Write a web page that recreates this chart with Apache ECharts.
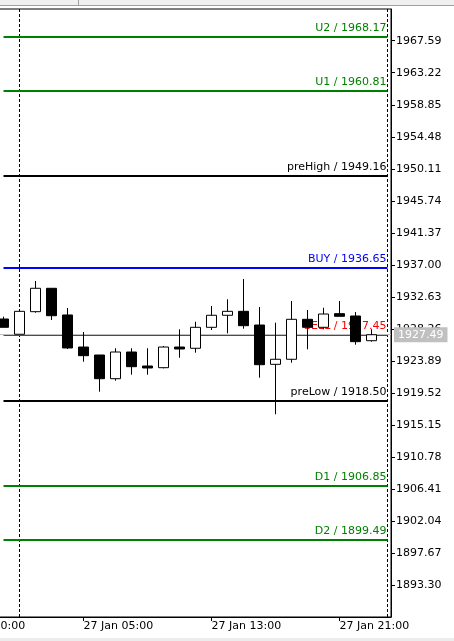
<!DOCTYPE html>
<html><head><meta charset="utf-8">
<script src="https://cdn.jsdelivr.net/npm/echarts@6/dist/echarts.min.js"></script>
<style>html,body{margin:0;padding:0;background:#fff}#c{width:454px;height:641px}</style>
</head><body><div id="c"></div>
<script>
// ---- data ----
const barTimes = ['26 Jan 20:00','26 Jan 21:00','26 Jan 22:00','26 Jan 23:00',
  '27 Jan 01:00','27 Jan 02:00','27 Jan 03:00','27 Jan 04:00','27 Jan 05:00','27 Jan 06:00',
  '27 Jan 07:00','27 Jan 08:00','27 Jan 09:00','27 Jan 10:00','27 Jan 11:00','27 Jan 12:00',
  '27 Jan 13:00','27 Jan 14:00','27 Jan 15:00','27 Jan 16:00','27 Jan 17:00','27 Jan 18:00',
  '27 Jan 19:00','27 Jan 20:00','27 Jan 21:00','27 Jan 22:00','27 Jan 23:00','28 Jan 01:00'];
const candleTimes = barTimes.slice(3, 27);
const candleOpen  = [1929.63,1927.55,1930.63,1933.82,1930.18,1925.81,1924.72,1921.49,1925.13,1923.22,1922.99,1925.81,1925.64,1928.50,1930.14,1930.68,1928.81,1923.45,1924.14,1929.59,1928.50,1930.36,1930.04,1926.67];
const candleClose = [1928.50,1930.68,1933.82,1930.08,1925.68,1924.63,1921.49,1925.13,1923.13,1922.95,1925.81,1925.54,1928.50,1930.14,1930.68,1928.72,1923.40,1924.14,1929.59,1928.50,1930.31,1930.00,1926.54,1927.49];
const candleLow   = [1928.50,1927.55,1930.49,1929.50,1925.54,1923.81,1919.72,1921.22,1922.04,1922.04,1922.90,1924.35,1925.04,1928.13,1927.68,1928.31,1921.63,1916.64,1923.67,1925.50,1928.23,1930.00,1926.13,1926.54];
const candleHigh  = [1929.95,1930.68,1934.82,1933.82,1931.13,1927.86,1924.72,1925.64,1925.64,1925.64,1925.95,1928.23,1929.26,1931.41,1932.32,1935.09,1931.27,1929.13,1932.09,1930.86,1931.17,1932.09,1930.59,1928.23];
const levelNames  = ['U2','U1','preHigh','BUY','SELL','preLow','D1','D2'];
const levelValues = [1968.17,1960.81,1949.16,1936.65,1927.45,1918.50,1906.85,1899.49];
const levelFrom = '26 Jan 23:00', levelTo = '28 Jan 01:00';
const currentPrice = 1927.49;
const separatorTimes = ['27 Jan 01:00','28 Jan 01:00'];
const xLabelTimes = ['26 Jan 20:00','27 Jan 05:00','27 Jan 13:00','27 Jan 21:00'];
const yTicks = [1967.59,1963.22,1958.85,1954.48,1950.11,1945.74,1941.37,1937.00,1932.63,1928.26,1923.89,1919.52,1915.15,1910.78,1906.41,1902.04,1897.67,1893.30];

// ---- styles ----
const levelColors = ['#008000','#008000','#000000','#0000ff','#ff0000','#000000','#008000','#008000'];
const levelWidths = [2,2,2,2,1,2,2,2];
const FONT = 'DejaVu Sans';

const idx = t => barTimes.indexOf(t);
const candleData = candleTimes.map((t,k)=>[idx(t), candleOpen[k], candleClose[k], candleLow[k], candleHigh[k]]);
const xLabelIdx = xLabelTimes.map(idx);

const markData = [];
separatorTimes.forEach(t => markData.push({xAxis: idx(t), lineStyle:{color:'#000', width:1, type:[3,2]}, label:{show:false}}));
markData.push({yAxis: currentPrice, lineStyle:{color:'#c0c0c0', width:1, type:'solid'},
  label:{show:true, position:'end', formatter: currentPrice.toFixed(2), backgroundColor:'#c0c0c0', color:'#fff',
    fontFamily:FONT, fontSize:11, padding:[1,4,1,4], lineHeight:13, distance:3}});
levelNames.forEach((n,k) => {
  const st = {lineStyle:{color:levelColors[k], width:levelWidths[k], type:'solid'},
    label:{show:true, position:'insideEndTop', formatter: n + ' / ' + levelValues[k].toFixed(2),
      color:levelColors[k], fontFamily:FONT, fontSize:11, distance:[1,3]}};
  markData.push([Object.assign({coord:[idx(levelFrom), levelValues[k]]}, st), Object.assign({coord:[idx(levelTo), levelValues[k]]}, st)]);
});

const chart = echarts.init(document.getElementById('c'));
chart.setOption({
  animation:false,
  backgroundColor:'#fff',
  grid:{left:-60, right:63, top:9, bottom:24, containLabel:false, outerBoundsMode:'none',
    show:true, borderColor:'#000', borderWidth:1, backgroundColor:'#fff'},
  xAxis:{type:'value', min:-0.96875, max:27.21875, z:1,
    axisLine:{show:true, onZero:false, lineStyle:{color:'#000', width:1}},
    axisTick:{show:true, customValues:xLabelIdx, length:4, lineStyle:{color:'#000'}},
    axisLabel:{show:true, customValues:xLabelIdx, formatter:v=>barTimes[Math.round(v)], align:'left', margin:4,
      color:'#000', fontFamily:FONT, fontSize:11},
    splitLine:{show:false}},
  yAxis:{type:'value', position:'right', min:1888.99, max:1971.91, z:1,
    axisLine:{show:true, onZero:false, lineStyle:{color:'#000', width:1}},
    axisTick:{show:true, customValues:yTicks, length:4, lineStyle:{color:'#000'}},
    axisLabel:{show:true, customValues:yTicks, formatter:v=>v.toFixed(2), margin:5, color:'#000', fontFamily:FONT, fontSize:11},
    splitLine:{show:false}},
  graphic:[
    {type:'rect', shape:{x:0,y:0,width:454,height:5}, style:{fill:'#f0f0f0'}, silent:true},
    {type:'line', shape:{x1:0,y1:5.5,x2:454,y2:5.5}, style:{stroke:'#a0a0a0', lineWidth:1}, silent:true},
    {type:'line', shape:{x1:78.5,y1:0,x2:78.5,y2:5}, style:{stroke:'#a0a0a0', lineWidth:1}, silent:true},
    {type:'rect', shape:{x:0,y:638,width:454,height:3}, style:{fill:'#ececec'}, silent:true}
  ],
  series:[{
    type:'candlestick', z:30, barWidth:10, silent:true,
    encode:{x:0, y:[1,2,3,4]},
    data:candleData,
    itemStyle:{color:'#fff', color0:'#000', borderColor:'#000', borderColor0:'#000', borderWidth:1},
    markLine:{z:20, silent:true, symbol:['none','none'], animation:false, data:markData}
  }]
});
</script></body></html>
